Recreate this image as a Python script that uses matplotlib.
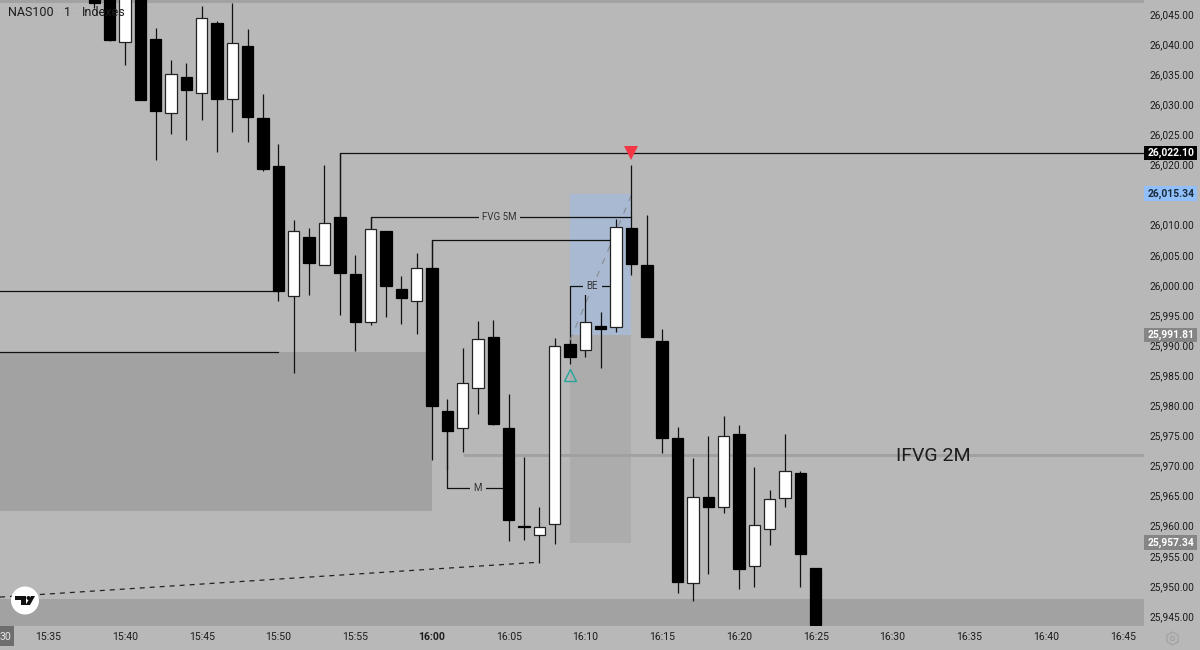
"""NAS100 1 minute candles with hand drawn levels, zones and price tags."""
import matplotlib

matplotlib.use("Agg")
import matplotlib.pyplot as plt
from matplotlib.patches import Circle, Polygon, Rectangle, RegularPolygon
from matplotlib.transforms import ScaledTranslation, blended_transform_factory

# minutes relative to 16:00
minutes = list(range(-22, 26))
opens = [26049.0, 26049.0, 26040.5, 26049.0, 26041.0, 26028.7, 26034.7, 26032.0,
         26043.7, 26031.0, 26039.9, 26027.9, 26019.9, 25998.3, 26008.1, 26003.5,
         26011.4, 26002.0, 25994.0, 26009.1, 25999.5, 25997.5, 26003.0, 25979.2,
         25976.4, 25983.0, 25991.5, 25976.4, 25960.1, 25958.6, 25960.4, 25990.3,
         25989.4, 25993.3, 25993.2, 26009.6, 26003.5, 25990.8, 25974.7, 25950.6,
         25964.9, 25963.3, 25975.4, 25953.5, 25959.6, 25964.8, 25968.9, 25953.1]
closes = [26047.0, 26040.8, 26049.0, 26030.9, 26029.1, 26035.2, 26032.5, 26044.5,
          26031.0, 26040.3, 26028.1, 26019.4, 25999.2, 26009.1, 26003.8, 26010.4,
          26002.1, 25994.0, 26009.5, 26000.0, 25998.0, 26003.0, 25980.0, 25975.9,
          25983.9, 25991.2, 25977.1, 25961.1, 25960.0, 25960.0, 25990.0, 25988.2,
          25994.0, 25992.8, 26009.8, 26003.6, 25991.5, 25974.7, 25950.8, 25964.9,
          25963.3, 25975.1, 25953.0, 25960.3, 25964.6, 25969.3, 25955.5, 25943.7]
highs = [26049.0, 26049.0, 26049.0, 26049.0, 26042.8, 26037.5, 26037.0, 26046.5,
         26044.0, 26047.0, 26042.7, 26031.9, 26023.6, 26010.9, 26009.6, 26020.1,
         26022.1, 26005.1, 26011.4, 26009.1, 26001.6, 26005.5, 26007.6, 25981.2,
         25989.7, 25994.2, 25994.3, 25982.0, 25971.6, 25963.3, 25991.4, 25991.0,
         25999.0, 25995.7, 26011.1, 26020.1, 26011.8, 25992.8, 25976.6, 25971.4,
         25975.1, 25978.4, 25976.9, 25969.9, 25966.1, 25975.4, 25969.3, 25953.1]
lows = [26046.2, 26040.7, 26036.7, 26030.9, 26020.9, 26025.2, 26024.2, 26027.6,
        26022.2, 26025.6, 26023.9, 26019.1, 25997.5, 25985.5, 25998.5, 26003.5,
        25995.2, 25989.2, 25993.5, 25994.8, 25993.7, 25992.0, 25971.1, 25969.4,
        25972.4, 25978.7, 25976.9, 25957.6, 25957.8, 25954.0, 25957.1, 25987.0,
        25988.2, 25986.4, 25992.3, 26001.8, 25991.5, 25972.2, 25949.0, 25947.7,
        25952.1, 25962.3, 25949.7, 25950.0, 25957.0, 25963.3, 25950.0, 25943.7]

price_ticks = list(range(25945, 26050, 5))
time_ticks = list(range(-25, 50, 5))
time_labels = ["15:35", "15:40", "15:45", "15:50", "15:55", "16:00", "16:05", "16:10",
               "16:15", "16:20", "16:25", "16:30", "16:35", "16:40", "16:45"]

# (price, background, text colour)
price_tags = [(26022.10, "#000000", "#ffffff"),
              (26015.34, "#90bff9", "#1a2a3a"),
              (25991.81, "#858585", "#ffffff"),
              (25957.34, "#858585", "#ffffff")]

X_MIN, X_MAX = -28.14, 46.39
Y_MIN, Y_MAX = 25943.5, 26047.49

BG = "#b8b8b8"
ZONE = "#a2a2a2"
TEXT = "#1c1c1c"

plt.rcParams["font.family"] = ["Roboto", "DejaVu Sans"]

fig = plt.figure(figsize=(12, 6.5), dpi=100, facecolor=BG)
ax = fig.add_axes([0, 24 / 650, 1144 / 1200, 626 / 650], facecolor=BG)
ax.set_xlim(X_MIN, X_MAX)
ax.set_ylim(Y_MIN, Y_MAX)
for spine in ax.spines.values():
    spine.set_visible(False)

# zones
ax.axhspan(26047.0, Y_MAX, color=ZONE, lw=0, zorder=1)
ax.axhspan(Y_MIN, 25948.0, color=ZONE, lw=0, zorder=1)
ax.add_patch(Rectangle((X_MIN, 25962.6), -X_MIN, 25989.0 - 25962.6, color=ZONE, lw=0, zorder=1))
ax.add_patch(Rectangle((9, 25957.34), 4, 25991.81 - 25957.34, color="#acacac", lw=0, zorder=1))
ax.add_patch(Rectangle((9, 25991.81), 4, 26015.34 - 25991.81, color="#a8b9d1", lw=0, zorder=1))
ax.hlines(25971.9, 2, X_MAX, color="#a0a0a0", lw=2.0, zorder=1.5)

# levels
line_kw = dict(color="#111111", lw=0.9, zorder=2)
ax.plot([-6, -6, X_MAX], [26011.4, 26022.1, 26022.1], **line_kw)
ax.plot([-4, -4, 13], [26009.5, 26011.4, 26011.4], **line_kw)
ax.plot([0, 0, 12], [26003.0, 26007.6, 26007.6], **line_kw)
ax.plot([X_MIN, -10], [25999.2, 25999.2], **line_kw)
ax.plot([X_MIN, -10], [25989.0, 25989.0], **line_kw)
ax.plot([1, 1, 5], [25975.9, 25966.5, 25966.5], **line_kw)
ax.plot([9, 9, 12], [25990.3, 25999.9, 25999.9], **line_kw)
ax.plot([X_MIN, 7], [25948.3, 25954.1], color="#222222", lw=0.9, ls=(0, (4, 4)), zorder=2)
ax.plot([9, 13], [25991.0, 26015.1], color="#8a8f98", lw=0.9, ls=(0, (5, 6)), zorder=2)

# candles
for m, o, c, h, l in zip(minutes, opens, closes, highs, lows):
    ax.vlines(m, l, h, color="#111111", lw=0.9, zorder=3)
    up = c > o
    ax.bar(m, abs(c - o), bottom=min(o, c), width=0.74,
           facecolor="#ffffff" if up else "#000000", edgecolor="#222222" if up else "#000000",
           linewidth=0.9, zorder=4)

# labels on the levels
ax.text(4.4, 26011.4, "FVG 5M", ha="center", va="center", fontsize=7, color="#333333", zorder=5,
        bbox=dict(facecolor=BG, edgecolor="none", pad=2.5))
ax.text(10.45, 25999.9, "BE", ha="center", va="center", fontsize=7, color="#333333", zorder=3.5,
        bbox=dict(facecolor="#a8b9d1", edgecolor="none", pad=2.5))
ax.text(3, 25966.5, "M", ha="center", va="center", fontsize=7, color="#333333", zorder=5,
        bbox=dict(facecolor=BG, edgecolor="none", pad=2.5))
ax.text(32.64, 25971.8, "IFVG 2M", ha="center", va="center", fontsize=14, color=TEXT, zorder=5)

ax.plot(13, 26022.1, marker="v", ms=9.5, color="#f23645", mew=0, zorder=6)
ax.plot(9, 25985.2, marker="^", ms=8, mfc="none", mec="#26a69a", mew=1.0, zorder=6)

# axis labels, 26,015.00 sits under its tag so it is left blank
ax.yaxis.tick_right()
ax.set_yticks(price_ticks)
ax.set_yticklabels(["" if p == 26015 else f"{p:,.2f}" for p in price_ticks], fontsize=7.3, color=TEXT)
ax.set_xticks(time_ticks)
ax.set_xticklabels(time_labels, fontsize=7.6, color=TEXT)
ax.tick_params(axis="y", length=0, pad=3.6)
ax.tick_params(axis="x", length=0, pad=4.0)
ax.get_xticklabels()[5].set_fontweight("bold")
nudge = ScaledTranslation(0, 1 / 100, fig.dpi_scale_trans)
for label in ax.get_yticklabels():
    label.set_transform(label.get_transform() + nudge)

# price tags sit over the tick labels
tag_tr = blended_transform_factory(ax.transAxes, ax.transData)
for price, bg, fg in price_tags:
    ax.add_patch(Rectangle((1.0, price - 1.2), 53 / 1144, 2.4, transform=tag_tr, facecolor=bg,
                           edgecolor="none", clip_on=False, zorder=7))
    ax.text(1171 / 1144, price, f"{price:,.2f}", transform=tag_tr, ha="center", va="center",
            fontsize=7.4, color=fg, fontweight="bold", zorder=8, clip_on=False)

# legend text, crosshair stub, logo and settings icon in figure pixels
for px, word, colour in [(8, "NAS100", TEXT), (57, "·", "#d0d0d0"), (64, "1", TEXT),
                         (75, "·", "#d0d0d0"), (82, "Indexes", TEXT)]:
    fig.text(px / 1200, 1 - 12 / 650, word, fontsize=9, color=colour, va="center", ha="left", zorder=10)
fig.patches.append(Rectangle((0, 4 / 650), 14 / 1200, 20 / 650, transform=fig.transFigure,
                             facecolor="#6e6e6e", edgecolor="none", figure=fig))
fig.text(5.5 / 1200, 1 - 637 / 650, "30", fontsize=7.6, color="#e8e8e8", va="center", ha="center")

overlay = fig.add_axes([0, 0, 1, 1], facecolor="none")
overlay.set_xlim(0, 1200)
overlay.set_ylim(650, 0)
overlay.axis("off")
overlay.add_patch(Circle((25, 600.5), 14, facecolor="#ffffff", edgecolor="none"))
overlay.add_patch(Polygon([(15, 596), (26, 596), (26, 605), (21, 605), (21, 600), (15, 600)],
                          facecolor="#111111", edgecolor="none"))
overlay.add_patch(Circle((28.5, 598), 2, facecolor="#111111", edgecolor="none"))
overlay.add_patch(Polygon([(31, 596), (35, 596), (30, 605), (25.5, 605)],
                          facecolor="#111111", edgecolor="none"))
overlay.add_patch(RegularPolygon((1172.5, 638.5), 6, radius=6.5, facecolor="none",
                                 edgecolor="#a2a2a2", lw=0.9))
overlay.add_patch(Circle((1172.5, 638.5), 2, facecolor="none", edgecolor="#a2a2a2", lw=0.9))

fig.savefig("out.png", dpi=100, facecolor=BG)
